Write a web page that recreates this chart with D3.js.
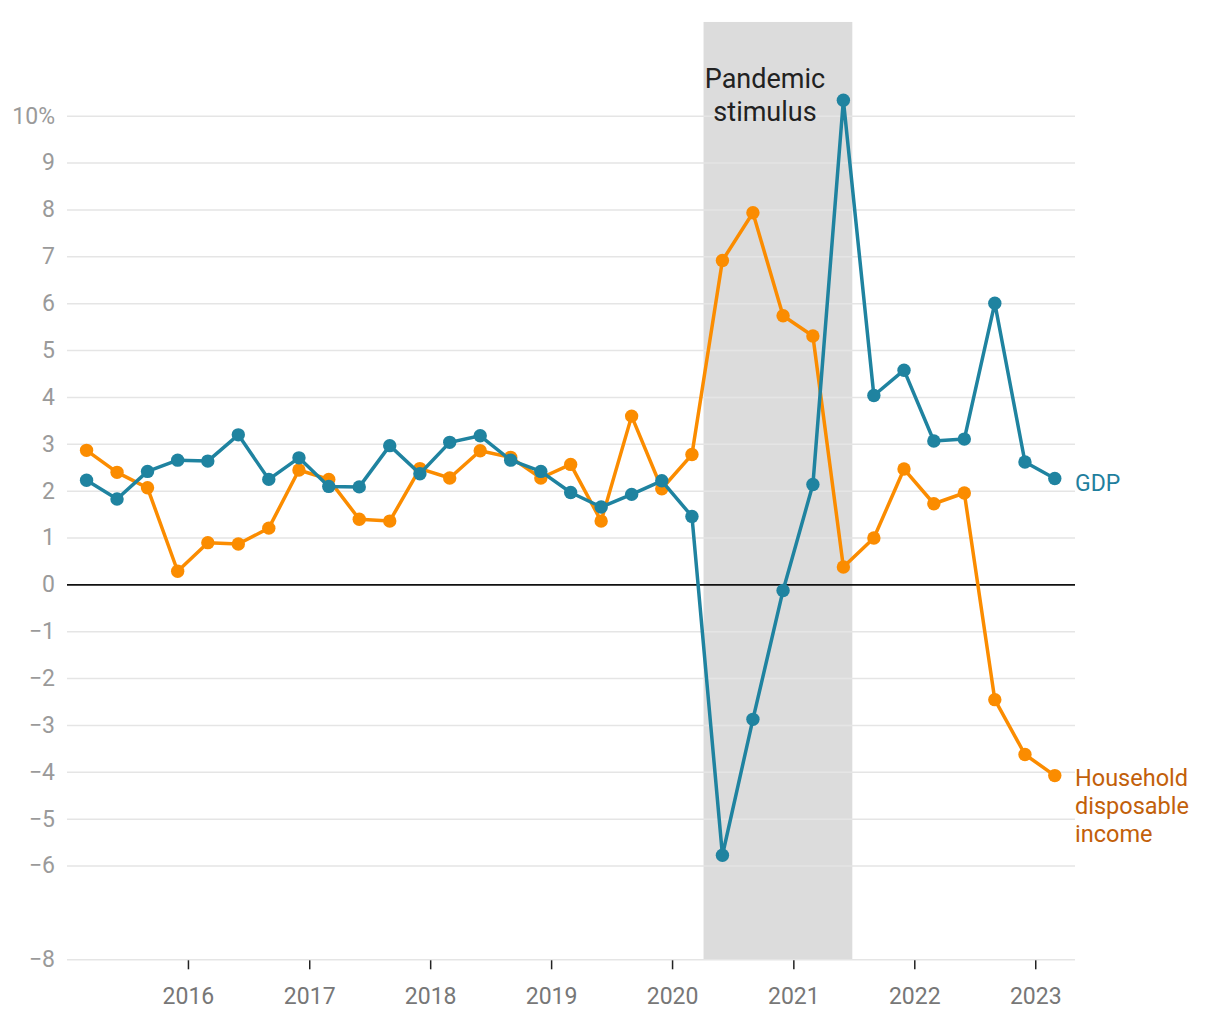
<!DOCTYPE html>
<html>
<head>
<meta charset="utf-8">
<script src="https://cdn.jsdelivr.net/npm/d3@7"></script>
<style>
  body { margin: 0; background: #fff; }
  svg { display: block; font-family: Roboto, "Noto Sans", sans-serif; }
</style>
</head>
<body>
<svg id="chart" width="1220" height="1020"></svg>
<script>
// ---- data ----
const quarters = [
  "2015-03-01","2015-06-01","2015-09-01","2015-12-01",
  "2016-03-01","2016-06-01","2016-09-01","2016-12-01",
  "2017-03-01","2017-06-01","2017-09-01","2017-12-01",
  "2018-03-01","2018-06-01","2018-09-01","2018-12-01",
  "2019-03-01","2019-06-01","2019-09-01","2019-12-01",
  "2020-03-01","2020-06-01","2020-09-01","2020-12-01",
  "2021-03-01","2021-06-01","2021-09-01","2021-12-01",
  "2022-03-01","2022-06-01","2022-09-01","2022-12-01",
  "2023-03-01"
];
const gdp = [2.22,1.82,2.41,2.65,2.63,3.19,2.24,2.70,2.09,2.08,2.96,2.36,3.03,3.17,2.65,2.41,1.96,1.65,1.92,2.21,1.45,-5.78,-2.88,-0.13,2.13,10.33,4.03,4.57,3.06,3.10,6.00,2.61,2.26];
const income = [2.86,2.39,2.06,0.28,0.89,0.86,1.20,2.44,2.24,1.39,1.35,2.47,2.27,2.85,2.71,2.27,2.56,1.35,3.59,2.04,2.77,6.91,7.93,5.73,5.30,0.37,0.99,2.46,1.72,1.95,-2.46,-3.63,-4.08];
const yTicks = [10,9,8,7,6,5,4,3,2,1,0,-1,-2,-3,-4,-5,-6,-8];
const xTickYears = [2016,2017,2018,2019,2020,2021,2022,2023];
const shadeRange = ["2020-04-05","2021-06-28"];
const shadeLabel = ["Pandemic","stimulus"];
const seriesLabels = { gdp: ["GDP"], income: ["Household","disposable","income"] };

// ---- setup ----
const parse = d3.timeParse("%Y-%m-%d");
const svg = d3.select("#chart");
const x = d3.scaleTime()
  .domain([parse("2015-01-01"), parse("2023-05-01")])
  .range([67, 1075]);
const y = d3.scaleLinear().domain([-8, 10]).range([959.3, 115.7]);

const blue = "#1f83a0", orange = "#fb8c00";
const blueText = "#1f7f9e", orangeText = "#c2600a";
const FONT = "Roboto, sans-serif";

// shaded region
svg.append("rect")
  .attr("x", x(parse(shadeRange[0])))
  .attr("width", x(parse(shadeRange[1])) - x(parse(shadeRange[0])))
  .attr("y", y(12))
  .attr("height", y(-8) - y(12))
  .attr("fill", "#dcdcdc");

// gridlines + y labels
const yAxis = d3.axisLeft(y)
  .tickValues(yTicks)
  .tickSize(-(1075 - 67))
  .tickPadding(12)
  .tickFormat(d => d === 10 ? "10%" : (d < 0 ? "\u2212" + Math.abs(d) : String(d)));
const gy = svg.append("g").attr("transform", "translate(67,0)").call(yAxis);
gy.attr("font-family", FONT);
gy.select(".domain").remove();
gy.selectAll(".tick line")
  .attr("stroke", d => d === 0 ? "#111" : "#e5e5e5")
  .attr("stroke-width", d => d === 0 ? 1.6 : 1.5);
gy.selectAll(".tick text")
  .attr("fill", "#9a9a9a")
  .attr("font-size", 23)
  .attr("font-family", FONT);

// x axis ticks
const xAxis = d3.axisBottom(x)
  .tickValues(xTickYears.map(yr => new Date(yr, 0, 1)))
  .tickSize(9)
  .tickPadding(18)
  .tickFormat(d3.timeFormat("%Y"));
const gx = svg.append("g").attr("transform", `translate(0,${y(-8) + 1})`).call(xAxis);
gx.attr("font-family", FONT);
gx.select(".domain").remove();
gx.selectAll(".tick line").attr("stroke", "#222").attr("stroke-width", 1.5);
gx.selectAll(".tick text")
  .attr("fill", "#777")
  .attr("font-size", 23)
  .attr("font-family", FONT);

// shade label
const sl = svg.append("text")
  .attr("x", 765).attr("y", 88)
  .attr("text-anchor", "middle")
  .attr("font-size", 27)
  .attr("font-family", FONT)
  .attr("fill", "#222");
shadeLabel.forEach((t, i) => sl.append("tspan").attr("x", 765).attr("dy", i === 0 ? 0 : 33).text(t));

// series
const line = d3.line().x((d, i) => x(parse(quarters[i]))).y(d => y(d));
function drawSeries(vals, color) {
  const g = svg.append("g");
  g.append("path").datum(vals)
    .attr("d", line)
    .attr("fill", "none")
    .attr("stroke", color)
    .attr("stroke-width", 3.5)
    .attr("stroke-linejoin", "round");
  g.selectAll("circle").data(vals).join("circle")
    .attr("cx", (d, i) => x(parse(quarters[i])))
    .attr("cy", d => y(d))
    .attr("r", 6.7)
    .attr("fill", color);
}
drawSeries(income, orange);
drawSeries(gdp, blue);

// series labels
svg.append("text")
  .attr("x", 1075).attr("y", 491)
  .attr("font-size", 23)
  .attr("font-family", FONT)
  .attr("fill", blueText)
  .text(seriesLabels.gdp[0]);
const hl = svg.append("text")
  .attr("x", 1075).attr("y", 786)
  .attr("font-size", 23.5)
  .attr("font-family", FONT)
  .attr("fill", orangeText);
seriesLabels.income.forEach((t, i) => hl.append("tspan").attr("x", 1075).attr("dy", i === 0 ? 0 : 27.8).text(t));
</script>
</body>
</html>
